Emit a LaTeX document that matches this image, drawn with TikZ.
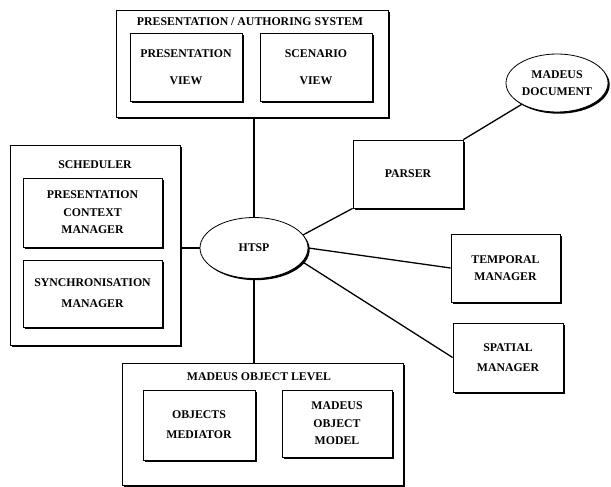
\documentclass[tikz,border=0pt]{standalone}
\usepackage{fontspec}
\setmainfont{Liberation Serif}
\usetikzlibrary{shapes.geometric,shadows}
\newcommand\dlabelfont{\fontsize{11.8}{17.5}\selectfont\bfseries}
\tikzset{
  box/.style={draw, fill=white, line width=0.8pt, inner sep=0pt, align=center, font=\dlabelfont,
    drop shadow={shadow xshift=1.7pt, shadow yshift=-1.7pt, fill=black, opacity=1}},
  oval/.style={box, ellipse},
  boxtitle/.style={font=\dlabelfont, inner sep=0pt},
  link/.style={line width=1.3pt}
}
\begin{document}
\begin{tikzpicture}[x=1pt, y=-1pt]
\useasboundingbox (0,0) rectangle (611,487);
% presentation / authoring system
\node[box, minimum width=272pt, minimum height=107pt] (sys) at (252,63.5) {};
\node[boxtitle] (systitle) at (250,22) {PRESENTATION / AUTHORING SYSTEM};
\node[box, minimum width=112pt, minimum height=68pt] (pview) at (186,67) {PRESENTATION\\[9.5pt]VIEW};
\node[box, minimum width=112pt, minimum height=68pt] (sview) at (316,67) {SCENARIO\\[9.5pt]VIEW};
% document and parser
\node[oval, minimum width=102pt, minimum height=58pt] (doc) at (557,83) {MADEUS\\DOCUMENT};
\node[box, minimum width=110pt, minimum height=68pt] (parser) at (408,174) {PARSER};
% scheduler
\node[box, minimum width=170pt, minimum height=200pt] (sched) at (95,245) {};
\node[boxtitle] (schedtitle) at (95,165) {SCHEDULER};
\node[box, minimum width=139pt, minimum height=69pt] (pcm) at (92.5,212.5) {PRESENTATION\\CONTEXT\\MANAGER};
\node[box, minimum width=139pt, minimum height=67pt] (sm) at (92.5,293.5) {SYNCHRONISATION\\[3.5pt]MANAGER};
% HTSP
\node[oval, minimum width=108pt, minimum height=61pt] (htsp) at (254,248) {HTSP};
% managers
\node[box, minimum width=109pt, minimum height=68pt] (temporal) at (505.5,268) {TEMPORAL\\MANAGER};
\node[box, minimum width=110pt, minimum height=69pt] (spatial) at (508,357.5) {SPATIAL\\[2.5pt]MANAGER};
% madeus object level
\node[box, minimum width=281pt, minimum height=122pt] (mol) at (262.5,424) {};
\node[boxtitle] (moltitle) at (259,377) {MADEUS OBJECT LEVEL};
\node[box, minimum width=112pt, minimum height=70pt] (om) at (199,425) {OBJECTS\\[2.5pt]MEDIATOR};
\node[box, minimum width=110pt, minimum height=67pt] (mom) at (337,423.5) {MADEUS\\OBJECT\\MODEL};
% connectors
\draw[link] (htsp.north) -- (htsp.north |- sys.south);
\draw[link] (htsp.west) -- (htsp.west -| sched.east);
\draw[link] (htsp.south) -- (htsp.south |- mol.north);
\draw[link] (htsp.15) -- (parser.south west);
\draw[link] (htsp.east) -- (temporal.west);
\draw[link] (htsp.-16) -- (spatial.west);
\draw[link] (parser.north east) -- (doc);
\end{tikzpicture}
\end{document}
